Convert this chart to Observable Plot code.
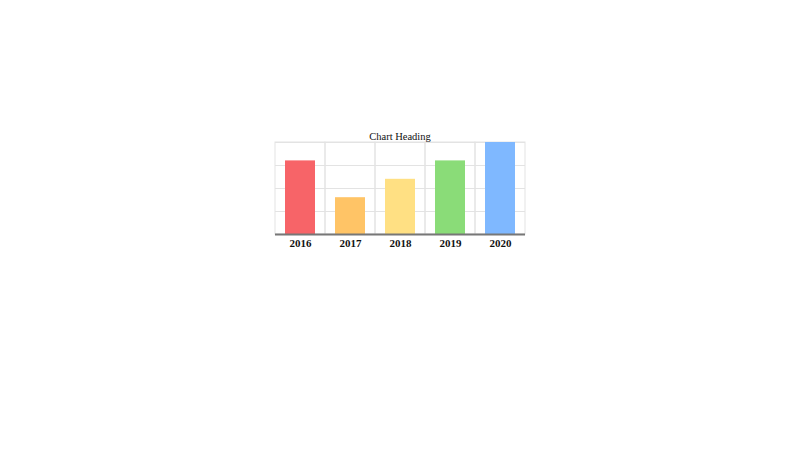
<!DOCTYPE html>
<html>
<head>
<meta charset="utf-8">
<script src="https://cdn.jsdelivr.net/npm/d3@7"></script>
<script src="https://cdn.jsdelivr.net/npm/@observablehq/plot@0.6"></script>
<style>
  html, body { margin: 0; padding: 0; background: #fff; }
  #wrap { position: relative; width: 800px; height: 450px; }
  #title { position: absolute; left: 0; top: 130px; width: 800px; text-align: center;
           font-family: "Liberation Serif", "DejaVu Serif", serif; font-size: 10.5px; line-height: 13px; color: #111; }
  #chart { position: absolute; left: 0; top: 0; }
</style>
</head>
<body>
<div id="wrap">
  <div id="chart"></div>
  <div id="title">Chart Heading</div>
</div>
<script>
const years = ["2016", "2017", "2018", "2019", "2020"];
const values = [80, 40, 60, 80, 100];
const colors = ["#f76468", "#ffc466", "#ffe083", "#8adc78", "#7fb8ff"];
const yTicks = [0, 25, 50, 75, 100];

const data = years.map((y, i) => ({year: y, value: values[i], color: colors[i]}));

const chart = Plot.plot({
  width: 800,
  height: 450,
  marginLeft: 275,
  marginRight: 275,
  marginTop: 142,
  marginBottom: 216,
  style: {fontFamily: "'Liberation Serif', 'DejaVu Serif', serif", background: "#fff"},
  x: {domain: years, padding: 0, label: null},
  y: {domain: [0, 100], label: null},
  marks: [
    Plot.ruleY(yTicks, {stroke: "#e3e3e3", strokeWidth: 1}),
    Plot.barY(data, {x: "year", y1: 0, y2: 100, fill: "none", stroke: "#e3e3e3", strokeWidth: 1}),
    Plot.barY(data, {x: "year", y: "value", fill: "color", insetLeft: 10, insetRight: 10}),
    Plot.ruleY([0], {stroke: "#777", strokeWidth: 2}),
    Plot.axisX({tickSize: 0, tickPadding: 5, fontSize: 11, fontWeight: "bold", fill: "#111"}),
    Plot.axisY({ticks: [], label: null})
  ]
});
document.getElementById("chart").appendChild(chart);
</script>
</body>
</html>
